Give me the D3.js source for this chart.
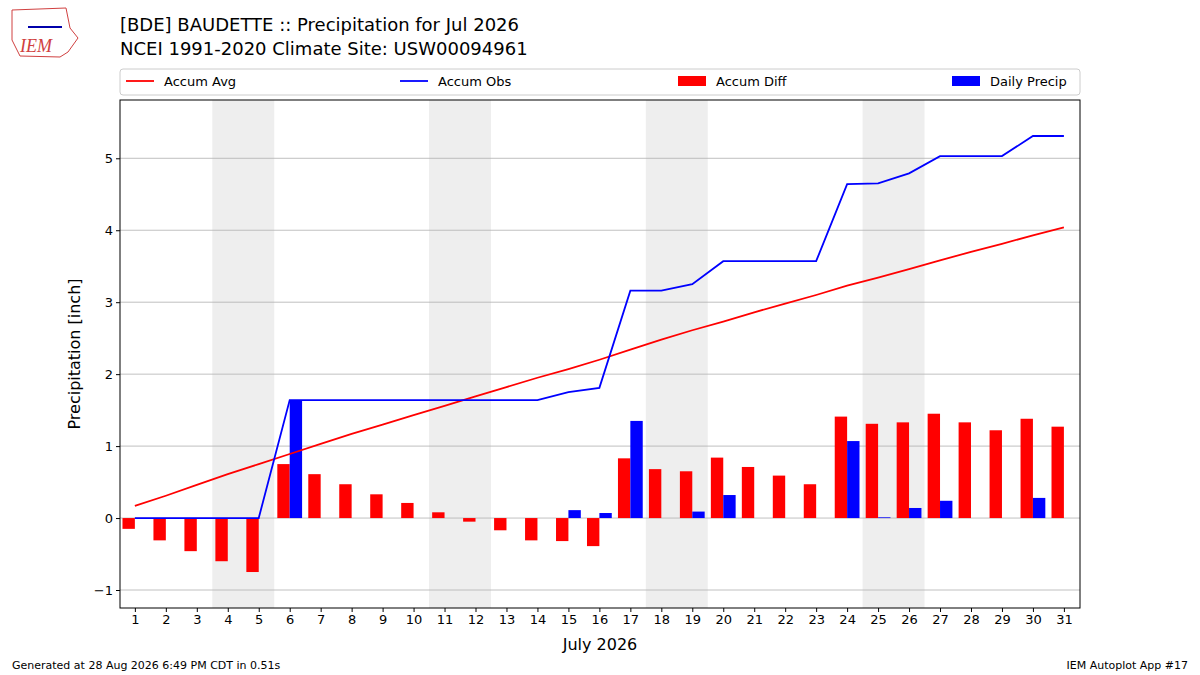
<!DOCTYPE html>
<html><head><meta charset="utf-8">
<script src="https://cdn.jsdelivr.net/npm/d3@7"></script>
<style>body{margin:0;background:#fff;font-family:"DejaVu Sans",sans-serif}</style>
</head><body><svg id="c" width="1200" height="675"></svg>
<script>
const days = d3.range(1, 32);
const accumAvg = [0.17,0.31,0.46,0.61,0.75,0.89,1.03,1.17,1.30,1.43,1.56,1.69,1.82,1.95,2.07,2.20,2.34,2.48,2.61,2.73,2.86,2.98,3.10,3.23,3.34,3.46,3.58,3.70,3.81,3.93,4.04];
const accumObs = [0,0,0,0,0,1.64,1.64,1.64,1.64,1.64,1.64,1.64,1.64,1.64,1.75,1.81,3.16,3.16,3.25,3.57,3.57,3.57,3.57,4.64,4.65,4.79,5.03,5.03,5.03,5.31,5.31];
const accumDiff = [-0.15,-0.31,-0.46,-0.6,-0.75,0.75,0.61,0.47,0.33,0.21,0.08,-0.05,-0.17,-0.31,-0.32,-0.39,0.83,0.68,0.65,0.84,0.71,0.59,0.47,1.41,1.31,1.33,1.45,1.33,1.22,1.38,1.27];
const dailyPrecip = [0,0,0,0,0,1.64,0,0,0,0,0,0,0,0,0.11,0.07,1.35,0,0.09,0.32,0,0,0,1.07,0.01,0.14,0.24,0,0,0.28,0];
const weekends = [[4,5],[11,12],[18,19],[25,26]];
const yTicks = [-1,0,1,2,3,4,5];

const svg = d3.select("#c");
const L=120,R=1080,T=100,B=608;
const x = d3.scaleLinear().domain([0.52,31.52]).range([L,R]);
const y = d3.scaleLinear().domain([-1.25,5.81]).range([B,T]);

svg.selectAll(".we").data(weekends).enter().append("rect")
  .attr("x",d=>x(d[0]-0.5)).attr("width",d=>x(d[1]+0.5)-x(d[0]-0.5))
  .attr("y",T).attr("height",B-T).attr("fill","#eeeeee");

svg.selectAll(".grid").data(yTicks).enter().append("line")
  .attr("x1",L).attr("x2",R).attr("y1",d=>y(d)).attr("y2",d=>y(d))
  .attr("stroke","#b0b0b0").attr("stroke-width",0.8);

const bw = x(0.4)-x(0);
svg.selectAll(".diff").data(accumDiff).enter().append("rect")
  .attr("x",(d,i)=>x(days[i]-0.4)).attr("width",bw)
  .attr("y",d=>y(Math.max(0,d))).attr("height",d=>Math.abs(y(d)-y(0)))
  .attr("fill","red");
svg.selectAll(".daily").data(dailyPrecip).enter().append("rect")
  .attr("x",(d,i)=>x(days[i])).attr("width",bw)
  .attr("y",d=>y(Math.max(0,d))).attr("height",d=>Math.abs(y(d)-y(0)))
  .attr("fill","blue");

const line = d3.line().x((d,i)=>x(days[i])).y(d=>y(d));
svg.append("path").attr("d",line(accumAvg)).attr("fill","none").attr("stroke","red").attr("stroke-width",1.8);
svg.append("path").attr("d",line(accumObs)).attr("fill","none").attr("stroke","blue").attr("stroke-width",1.8);

svg.append("rect").attr("x",L).attr("y",T).attr("width",R-L).attr("height",B-T).attr("fill","none").attr("stroke","#000");

const xa = svg.append("g").attr("transform",`translate(0,${B})`).call(d3.axisBottom(x).tickValues(days).tickSize(4).tickSizeOuter(0));
const ya = svg.append("g").attr("transform",`translate(${L},0)`).call(d3.axisLeft(y).tickValues(yTicks).tickFormat(d=>d<0?"\u2212"+(-d):d).tickSize(4).tickSizeOuter(0));
[xa,ya].forEach(a=>{a.select(".domain").remove();a.selectAll("text").attr("font-size",13).attr("font-family","DejaVu Sans").attr("fill","#000");});

svg.append("text").attr("x",600).attr("y",650).attr("text-anchor","middle").attr("font-size",16).text("July 2026");
svg.append("text").attr("transform","translate(80,354) rotate(-90)").attr("text-anchor","middle").attr("font-size",16).text("Precipitation [inch]");

svg.append("text").attr("x",120).attr("y",31).attr("font-size",18).text("[BDE] BAUDETTE :: Precipitation for Jul 2026");
svg.append("text").attr("x",120).attr("y",55).attr("font-size",18).text("NCEI 1991-2020 Climate Site: USW00094961");

// legend
svg.append("rect").attr("x",120).attr("y",69).attr("width",960).attr("height",26).attr("rx",3).attr("fill","#fff").attr("stroke","#ccc");
const legend = [{t:"Accum Avg",c:"red",k:"l",x:126},{t:"Accum Obs",c:"blue",k:"l",x:400},{t:"Accum Diff",c:"red",k:"b",x:678},{t:"Daily Precip",c:"blue",k:"b",x:952}];
legend.forEach(d=>{
  if(d.k==="l") svg.append("line").attr("x1",d.x).attr("x2",d.x+28).attr("y1",81).attr("y2",81).attr("stroke",d.c).attr("stroke-width",1.8);
  else svg.append("rect").attr("x",d.x).attr("y",76).attr("width",28).attr("height",10).attr("fill",d.c);
  svg.append("text").attr("x",d.x+38).attr("y",86).attr("font-size",13).text(d.t);
});

svg.append("text").attr("x",12).attr("y",669).attr("font-size",11).text("Generated at 28 Aug 2026 6:49 PM CDT in 0.51s");
svg.append("text").attr("x",1188).attr("y",669).attr("text-anchor","end").attr("font-size",11).text("IEM Autoplot App #17");

// logo
svg.append("path").attr("d","M12,10 L66,8 L70,28 L78,38 L68,52 L60,57 L20,56 L12,40 Z").attr("fill","#fff").attr("stroke","#d04040").attr("stroke-width",1);
svg.append("line").attr("x1",28).attr("x2",62).attr("y1",27).attr("y2",27).attr("stroke","#0000aa").attr("stroke-width",2);
svg.append("text").attr("x",20).attr("y",52).attr("font-size",18).attr("font-style","italic").attr("font-family","Liberation Serif").attr("fill","#d04040").text("IEM");
</script></body></html>
